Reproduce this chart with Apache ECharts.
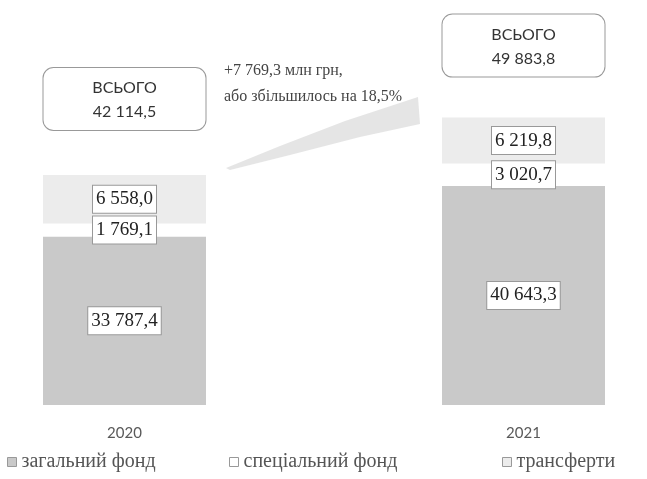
<!DOCTYPE html>
<html>
<head>
<meta charset="utf-8">
<script src="https://cdn.jsdelivr.net/npm/echarts@6/dist/echarts.min.js"></script>
<style>
  html, body { margin: 0; padding: 0; background: #fff; }
  #main { width: 647px; height: 479px; }
</style>
</head>
<body>
<div id="main"></div>
<script>
// дані
var years = ['2020', '2021'];
var generalFund = [33787.4, 40643.3];
var specialFund = [1769.1, 3020.7];
var transfers = [6558.0, 6219.8];
var totals = [42114.5, 49883.8];
var growthLines = ['+7 769,3 млн грн,', 'або збільшилось на 18,5%'];

// 33787.4 -> "33 787,4"
function fmt(v) {
    var s = v.toFixed(1).split('.');
    return s[0].replace(/\B(?=(\d{3})+(?!\d))/g, ' ') + ',' + s[1];
}

var innerLabel = {
    show: true,
    position: 'inside',
    formatter: function (p) { return fmt(p.value); },
    fontFamily: 'Liberation Serif',
    fontSize: 19,
    color: '#222',
    backgroundColor: '#fff',
    borderColor: '#999',
    borderWidth: 1,
    padding: [5, 3, 3, 3]
};

var totalGap = [45, 41];

var myChart = echarts.init(document.getElementById('main'));
myChart.setOption({
    animation: false,
    // широка сітка, щоб стовпці стали під 125 та 524 px
    grid: { left: -75, right: -76, top: 65, bottom: 74, outerBoundsMode: 'none', containLabel: false },
    xAxis: {
        type: 'category',
        data: years,
        axisLine: { show: false },
        axisTick: { show: false },
        axisLabel: { margin: 21, color: '#595959', fontFamily: 'Lato', fontSize: 15 }
    },
    yAxis: {
        type: 'value',
        min: 11000,
        max: 57000,
        show: false
    },
    legend: [
        { data: ['загальний фонд'], left: 2, bottom: 2 },
        { data: ['спеціальний фонд'], left: 224, bottom: 2 },
        { data: ['трансферти'], left: 497, bottom: 2 }
    ].map(function (l) {
        l.icon = 'rect';
        l.itemWidth = 9;
        l.itemHeight = 9;
        l.itemGap = 5;
        l.textStyle = { fontFamily: 'Liberation Serif', fontSize: 20, color: '#555' };
        l.itemStyle = { borderColor: '#999', borderWidth: 1 };
        return l;
    }),
    graphic: [
        {
            // стрілка-клин між стовпцями
            type: 'polygon',
            shape: {
                points: [[226, 168], [280, 146], [345, 121], [418, 97],
                         [420, 124], [360, 137], [290, 155], [230, 170]]
            },
            style: { fill: 'rgba(160,160,160,0.28)' }
        },
        {
            type: 'text',
            left: 224,
            top: 58,
            z: 100,
            style: {
                text: growthLines.join('\n'),
                font: '16px "Liberation Serif"',
                lineHeight: 26,
                fill: '#444'
            }
        }
    ],
    series: [
        {
            name: 'загальний фонд',
            type: 'bar',
            stack: 'all',
            barWidth: 163,
            itemStyle: { color: '#c9c9c9' },
            label: innerLabel,
            data: generalFund
        },
        {
            name: 'спеціальний фонд',
            type: 'bar',
            stack: 'all',
            itemStyle: { color: '#ffffff' },
            label: innerLabel,
            data: specialFund
        },
        {
            name: 'трансферти',
            type: 'bar',
            stack: 'all',
            itemStyle: { color: '#ececec' },
            label: innerLabel,
            data: transfers
        },
        {
            name: 'всього',
            type: 'bar',
            barWidth: 163,
            barGap: '-100%',
            silent: true,
            itemStyle: { color: 'rgba(0,0,0,0)' },
            label: {
                show: true,
                position: 'top',
                formatter: function (p) { return 'ВСЬОГО\n' + fmt(p.value); },
                fontFamily: 'Lato',
                fontSize: 16,
                lineHeight: 24,
                color: '#333',
                align: 'center',
                width: 162,
                height: 50,
                padding: [6, 0, 6, 0],
                backgroundColor: '#fff',
                borderColor: '#999',
                borderWidth: 1,
                borderRadius: 10
            },
            data: totals.map(function (v, i) {
                return { value: v, label: { distance: totalGap[i] } };
            }),
            z: 1
        }
    ]
});
</script>
</body>
</html>
